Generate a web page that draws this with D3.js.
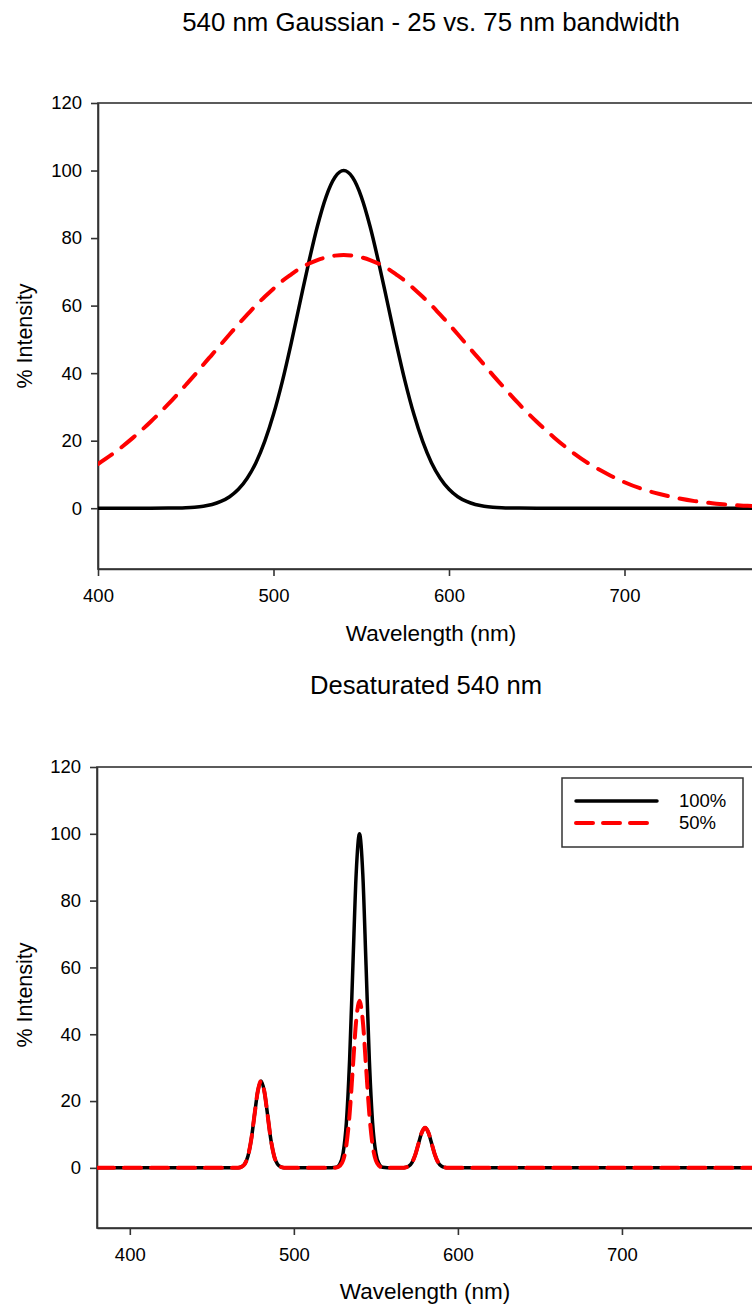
<!DOCTYPE html>
<html>
<head>
<meta charset="utf-8">
<script src="https://cdn.jsdelivr.net/npm/d3@7"></script>
<style>
  html, body { margin: 0; padding: 0; background: #ffffff; }
  svg { display: block; }
  text { font-family: "Liberation Sans", Arial, Helvetica, sans-serif; fill: #000; }
</style>
</head>
<body>
<svg id="chart" width="752" height="1305"></svg>
<script>
// ---------------- DATA ----------------
// Top panel: 540 nm Gaussian, 25 vs 75 nm bandwidth
const topTitle = "540 nm Gaussian - 25 vs. 75 nm bandwidth";
const topWavelengths = [400,410,420,430,440,
  450,455,460,465,470,475,480,485,490,495,500,505,510,515,520,525,530,535,540,545,550,555,560,565,570,575,580,585,590,595,600,605,610,615,620,625,630,
  640,650,660,670,680,690,700,710,720,730,740,750,760,770,780,790,800];
const topNarrow = [0,0,0.001,0.006,0.03,
  0.15,0.31,0.6,1.1,2.0,3.4,5.6,8.9,13.5,19.8,27.8,37.5,48.7,60.7,72.6,83.5,92.3,98.0,100,98.0,92.3,83.5,72.6,60.7,48.7,37.5,27.8,19.8,13.5,8.9,5.6,3.4,2.0,1.1,0.6,0.31,0.15,
  0.03,0.006,0.001,0,0,0,0,0,0,0,0,0,0,0,0,0,0];
const topWide = [13.1,16.7,20.9,25.6,30.8,
  36.5,39.4,42.5,45.5,48.5,51.5,54.5,57.3,60.1,62.6,65.0,67.3,69.2,71.0,72.4,73.5,74.3,74.8,75,74.8,74.3,73.5,72.4,71.0,69.2,67.3,65.0,62.6,60.1,57.3,54.5,51.5,48.5,45.5,42.5,39.4,36.5,
  30.8,25.6,20.9,16.7,13.1,10.2,7.7,5.7,4.2,3.0,2.1,1.5,1.0,0.7,0.45,0.3,0.2];

// Bottom panel: desaturated 540 nm
const bottomTitle = "Desaturated 540 nm";
const bottomWavelengths = [380,400,420,440,460,
  466,468,470,472,474,476,478,480,482,484,486,488,490,492,494,
  500,510,520,
  526,528,530,532,534,536,538,540,542,544,546,548,550,552,554,
  560,
  566,568,570,572,574,576,578,580,582,584,586,588,590,592,594,
  600,650,700,750,800];
const sat100 = [0,0,0,0,0,
  0.06,0.3,1.1,3.5,8.4,15.8,22.9,26,22.9,15.8,8.4,3.5,1.1,0.3,0.06,
  0,0,0,
  0.2,1.1,4.4,13.5,32.5,60.7,88.2,100,88.2,60.7,32.5,13.5,4.4,1.1,0.2,
  0,
  0.03,0.13,0.5,1.6,3.9,7.3,10.6,12,10.6,7.3,3.9,1.6,0.5,0.13,0.03,
  0,0,0,0,0];
const sat50 = [0,0,0,0,0,
  0.06,0.3,1.1,3.5,8.4,15.8,22.9,26,22.9,15.8,8.4,3.5,1.1,0.3,0.06,
  0,0,0,
  0.1,0.6,2.2,6.8,16.2,30.3,44.1,50,44.1,30.3,16.2,6.8,2.2,0.6,0.1,
  0,
  0.03,0.13,0.5,1.6,3.9,7.3,10.6,12,10.6,7.3,3.9,1.6,0.5,0.13,0.03,
  0,0,0,0,0];
const legendLabels = ["100%", "50%"];

const yTicks = [0,20,40,60,80,100,120];
const xTicks = [400,500,600,700];
const xLabel = "Wavelength (nm)";
const yLabel = "% Intensity";

// ---------------- DRAWING ----------------
const svg = d3.select("#chart");
const AXIS = "#333333";

function panel(cfg) {
  const g = svg.append("g");
  const x = d3.scaleLinear().domain(cfg.xDomain).range([cfg.left, cfg.right]);
  const y = d3.scaleLinear().domain([-18, 120]).range([cfg.bottom, cfg.top]);

  const clipId = "clip" + cfg.id;
  svg.append("defs").append("clipPath").attr("id", clipId)
    .append("rect").attr("x", cfg.left).attr("y", cfg.top - 5)
    .attr("width", cfg.right - cfg.left).attr("height", cfg.bottom - cfg.top + 5);

  // frame
  g.append("rect")
    .attr("x", cfg.left).attr("y", cfg.top)
    .attr("width", cfg.right - cfg.left).attr("height", cfg.bottom - cfg.top)
    .attr("fill", "none").attr("stroke", AXIS).attr("stroke-width", 1.6);

  // axes
  const xa = g.append("g").attr("transform", `translate(0,${cfg.bottom})`)
    .call(d3.axisBottom(x).tickValues(xTicks).tickFormat(d3.format("d"))
      .tickSizeInner(7).tickSizeOuter(0).tickPadding(13));
  const ya = g.append("g").attr("transform", `translate(${cfg.left},0)`)
    .call(d3.axisLeft(y).tickValues(yTicks).tickFormat(d3.format("d"))
      .tickSizeInner(7).tickSizeOuter(0).tickPadding(9));
  [xa, ya].forEach(a => {
    a.select(".domain").attr("stroke", AXIS).attr("stroke-width", 1.6);
    a.selectAll(".tick line").attr("stroke", AXIS).attr("stroke-width", 1.6);
    a.selectAll(".tick text").attr("font-size", 18.5).attr("fill", "#000")
      .style("font-family", '"Liberation Sans", Arial, sans-serif');
  });

  // titles and labels
  g.append("text").attr("x", cfg.titleX).attr("y", cfg.titleY)
    .attr("text-anchor", "middle").attr("font-size", cfg.titleSize).text(cfg.title);
  g.append("text").attr("x", cfg.labelX).attr("y", cfg.xLabelY)
    .attr("text-anchor", "middle").attr("font-size", 22.5).text(xLabel);
  g.append("text").attr("transform", `translate(32,${cfg.yLabelY}) rotate(-90)`)
    .attr("text-anchor", "middle").attr("font-size", 21.5).text(yLabel);

  const line = d3.line().x(d => x(d[0])).y(d => y(d[1])).curve(d3.curveMonotoneX);
  const plot = g.append("g").attr("clip-path", `url(#${clipId})`);
  cfg.series.forEach(s => {
    plot.append("path")
      .datum(cfg.wl.map((w, i) => [w, s.values[i]]))
      .attr("d", line)
      .attr("fill", "none")
      .attr("stroke", s.color)
      .attr("stroke-width", s.width)
      .attr("stroke-linecap", s.dash ? "round" : "butt")
      .attr("stroke-linejoin", "round")
      .attr("stroke-dasharray", s.dash || null);
  });
  return {g, x, y};
}

panel({
  id: "top", xDomain: [400, 800], left: 98, right: 800, top: 103, bottom: 569,
  title: topTitle, titleX: 431, titleY: 31, titleSize: 25.8,
  labelX: 431, xLabelY: 641, yLabelY: 336,
  wl: topWavelengths,
  series: [
    {values: topNarrow, color: "#000000", width: 3.5},
    {values: topWide, color: "#ff0000", width: 4, dash: "17 12"}
  ]
});

panel({
  id: "bot", xDomain: [380, 800], left: 97, right: 786, top: 767, bottom: 1228,
  title: bottomTitle, titleX: 426, titleY: 694, titleSize: 25.6,
  labelX: 425, xLabelY: 1299, yLabelY: 995,
  wl: bottomWavelengths,
  series: [
    {values: sat100, color: "#000000", width: 3.5},
    {values: sat50, color: "#ff0000", width: 4, dash: "17 10"}
  ]
});

// legend
const lg = svg.append("g");
lg.append("rect").attr("x", 562).attr("y", 778).attr("width", 181).attr("height", 69)
  .attr("fill", "#fff").attr("stroke", AXIS).attr("stroke-width", 1.5);
const legendStyles = [
  {color: "#000000", width: 3.5, dash: null},
  {color: "#ff0000", width: 4, dash: "17 10"}
];
legendLabels.forEach((lab, i) => {
  const yy = 801 + i * 22;
  const st = legendStyles[i];
  lg.append("line").attr("x1", 576).attr("x2", 657).attr("y1", yy).attr("y2", yy)
    .attr("stroke", st.color).attr("stroke-width", st.width)
    .attr("stroke-linecap", "round")
    .attr("stroke-dasharray", st.dash);
  lg.append("text").attr("x", 679).attr("y", yy).attr("dy", "0.35em")
    .attr("font-size", 18.5).text(lab);
});
</script>
</body>
</html>
